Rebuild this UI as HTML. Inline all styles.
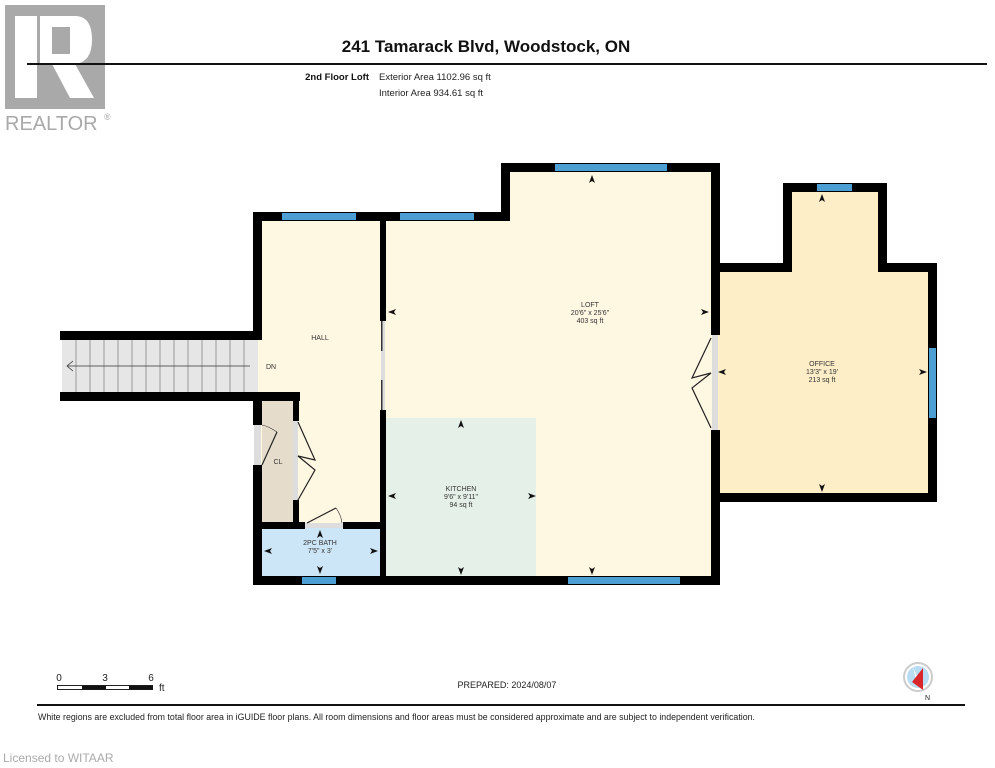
<!DOCTYPE html>
<html><head><meta charset="utf-8"><style>
html,body{margin:0;padding:0;background:#fff;}
svg{display:block;font-family:"Liberation Sans",Arial,sans-serif;}
</style></head><body>
<svg width="995" height="768" viewBox="0 0 995 768" xmlns="http://www.w3.org/2000/svg">
<rect x="5" y="5" width="100" height="104" fill="#a9a9a9"/>
<rect x="15" y="16" width="22" height="82" fill="#fff"/>
<path d="M40 16 H75 Q92 16 92 40 Q92 62 75 64 L94 98 H70 L52 64 H40 Z" fill="#fff"/>
<rect x="52" y="27" width="18" height="27" fill="#a9a9a9"/>
<text x="5" y="130" font-size="20" fill="#a9a9a9">REALTOR</text>
<text x="104" y="120" font-size="9" fill="#a9a9a9">®</text>

<text x="486" y="52" font-size="17" font-weight="bold" text-anchor="middle" fill="#111">241 Tamarack Blvd, Woodstock, ON</text>
<rect x="27" y="63" width="960" height="2" fill="#111"/>
<text x="369" y="80" font-size="9.5" font-weight="bold" text-anchor="end" fill="#111">2nd Floor Loft</text>
<text x="379" y="80" font-size="9.5" fill="#222">Exterior Area 1102.96 sq ft</text>
<text x="379" y="96" font-size="9.5" fill="#222">Interior Area 934.61 sq ft</text>

<rect x="258" y="217" width="125" height="360" fill="#fef7e2"/>
<rect x="383" y="217" width="330" height="360" fill="#fef7e2"/>
<rect x="505" y="168" width="210" height="60" fill="#fef7e2"/>
<rect x="716" y="268" width="216" height="230" fill="#fdeec8"/>
<rect x="788" y="188" width="94" height="85" fill="#fdeec8"/>
<rect x="386" y="418" width="150" height="158" fill="#e5f1e8"/>
<rect x="262" y="401" width="31" height="122" fill="#e6dccb"/>
<rect x="262" y="528" width="118" height="48" fill="#cce6f8"/>
<rect x="62" y="340" width="196" height="52" fill="#e6e6e6"/>
<g stroke="#888" stroke-width="0.8">
<line x1="76" y1="340" x2="76" y2="392"/><line x1="90" y1="340" x2="90" y2="392"/><line x1="104" y1="340" x2="104" y2="392"/><line x1="118" y1="340" x2="118" y2="392"/><line x1="132" y1="340" x2="132" y2="392"/><line x1="146" y1="340" x2="146" y2="392"/><line x1="160" y1="340" x2="160" y2="392"/><line x1="174" y1="340" x2="174" y2="392"/><line x1="188" y1="340" x2="188" y2="392"/><line x1="202" y1="340" x2="202" y2="392"/><line x1="216" y1="340" x2="216" y2="392"/><line x1="230" y1="340" x2="230" y2="392"/><line x1="244" y1="340" x2="244" y2="392"/>
<line x1="68" y1="366" x2="250" y2="366" stroke="#333"/>
<polyline points="73,361 67,366 73,371" fill="none" stroke="#333"/>
</g>

<g fill="#000">
<rect x="60" y="331" width="202" height="9"/>
<rect x="60" y="392" width="240" height="9"/>
<rect x="253" y="212" width="9" height="128"/>
<rect x="253" y="392" width="9" height="33"/>
<rect x="253" y="465" width="9" height="120"/>
<rect x="253" y="212" width="257" height="9"/>
<rect x="501" y="163" width="9" height="58"/>
<rect x="501" y="163" width="219" height="9"/>
<rect x="711" y="163" width="9" height="172"/>
<rect x="711" y="430" width="9" height="155"/>
<rect x="253" y="576" width="467" height="9"/>
<rect x="380" y="221" width="6" height="100"/>
<rect x="380" y="410" width="6" height="170"/>
<rect x="293" y="401" width="6" height="20"/>
<rect x="293" y="500" width="6" height="23"/>
<rect x="253" y="522" width="52" height="7"/>
<rect x="343" y="522" width="40" height="7"/>
<rect x="711" y="263" width="81" height="9"/>
<rect x="783" y="183" width="9" height="89"/>
<rect x="783" y="183" width="104" height="9"/>
<rect x="878" y="183" width="9" height="89"/>
<rect x="878" y="263" width="59" height="9"/>
<rect x="928" y="263" width="9" height="239"/>
<rect x="711" y="493" width="226" height="9"/>
</g>
<rect x="381" y="321" width="4" height="89" fill="#ddd"/>
<rect x="381" y="321" width="1.5" height="30" fill="#333"/><rect x="381" y="380" width="1.5" height="30" fill="#333"/>
<rect x="712" y="335" width="6" height="95" fill="#ddd"/>
<rect x="254" y="425" width="7" height="40" fill="#ddd"/>
<rect x="293" y="421" width="5" height="79" fill="#ddd"/>
<rect x="305" y="523" width="38" height="5" fill="#ddd"/>
<g fill="none" stroke="#222" stroke-width="1.2">
<polyline points="711,338 692,378 711,373 692,388 711,428"/>
<polyline points="298,422 315,460 298,456 315,470 298,500"/>
<polyline points="262,465 277,432"/>
<path d="M277,432 Q268,426 262,425" stroke-width="0.6"/>
<polyline points="307,523 336,508"/>
<path d="M336,508 Q341,515 342,523" stroke-width="0.6"/>
</g>
<g fill="#4d9fd3">
<rect x="282" y="213" width="74" height="7"/>
<rect x="400" y="213" width="74" height="7"/>
<rect x="555" y="164" width="112" height="7"/>
<rect x="817" y="184" width="35" height="7"/>
<rect x="929" y="348" width="7" height="70"/>
<rect x="568" y="577" width="112" height="7"/>
<rect x="302" y="577" width="34" height="7"/>
</g>
<g fill="#111">
<path d="M592,175 l-3,8 3,-2 3,2z"/>
<path d="M388,312 l8,-3 -2,3 2,3z"/>
<path d="M709,312 l-8,-3 2,3 -2,3z"/>
<path d="M592,575 l-3,-8 3,2 3,-2z"/>
<path d="M461,420 l-3,8 3,-2 3,2z"/>
<path d="M388,496 l8,-3 -2,3 2,3z"/>
<path d="M536,496 l-8,-3 2,3 -2,3z"/>
<path d="M461,575 l-3,-8 3,2 3,-2z"/>
<path d="M822,194 l-3,8 3,-2 3,2z"/>
<path d="M718,372 l8,-3 -2,3 2,3z"/>
<path d="M927,372 l-8,-3 2,3 -2,3z"/>
<path d="M822,492 l-3,-8 3,2 3,-2z"/>
<path d="M320,530 l-3,8 3,-2 3,2z"/>
<path d="M264,551 l8,-3 -2,3 2,3z"/>
<path d="M378,551 l-8,-3 2,3 -2,3z"/>
<path d="M320,574 l-3,-8 3,2 3,-2z"/>
</g>
<g font-size="7" fill="#333" text-anchor="middle">
<text x="320" y="340">HALL</text>
<text x="271" y="369">DN</text>
<text x="278" y="464">CL</text>
<text x="320" y="545">2PC BATH</text><text x="320" y="553">7'5" x 3'</text>
<text x="590" y="307">LOFT</text><text x="590" y="315">20'6" x 25'6"</text><text x="590" y="323">403 sq ft</text>
<text x="461" y="491">KITCHEN</text><text x="461" y="499">9'6" x 9'11"</text><text x="461" y="507">94 sq ft</text>
<text x="822" y="366">OFFICE</text><text x="822" y="374">13'3" x 19'</text><text x="822" y="382">213 sq ft</text>
</g>

<text x="59" y="681" font-size="10" text-anchor="middle" fill="#222">0</text>
<text x="105" y="681" font-size="10" text-anchor="middle" fill="#222">3</text>
<text x="151" y="681" font-size="10" text-anchor="middle" fill="#222">6</text>
<rect x="57.5" y="685.5" width="95" height="4" fill="#fff" stroke="#222"/>
<rect x="82" y="685.5" width="24" height="4" fill="#111"/>
<rect x="129" y="685.5" width="24" height="4" fill="#111"/>
<text x="159" y="691" font-size="10" fill="#222">ft</text>
<text x="507" y="688" font-size="9" text-anchor="middle" fill="#222">PREPARED: 2024/08/07</text>
<circle cx="918" cy="677" r="14" fill="#fff" stroke="#ccc" stroke-width="2"/>
<circle cx="918" cy="677" r="11" fill="#b8dcf2"/>
<path d="M913,667 L923,690 L916,680 Z" fill="#fff"/>
<path d="M923,668 L923,690 L912,682 Z" fill="#d9262a"/>
<text x="925" y="700" font-size="7" fill="#222">N</text>
<rect x="37" y="704" width="928" height="2" fill="#111"/>
<text x="38" y="720" font-size="8.8" fill="#222" textLength="717" lengthAdjust="spacingAndGlyphs">White regions are excluded from total floor area in iGUIDE floor plans. All room dimensions and floor areas must be considered approximate and are subject to independent verification.</text>
<text x="3" y="762" font-size="12" fill="#aaa">Licensed to WITAAR</text>
</svg>
</body></html>
